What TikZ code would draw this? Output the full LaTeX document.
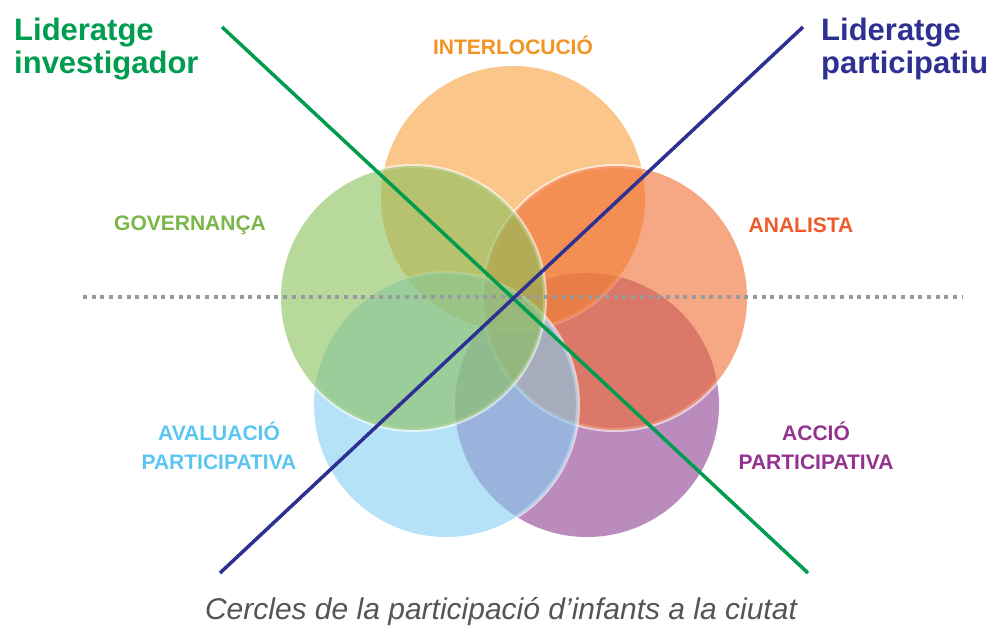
\documentclass[tikz,border=0pt]{standalone}
\usepackage{fontspec}
\setmainfont{Liberation Sans}
\definecolor{cOrange}{HTML}{F8A03C}
\definecolor{cGreen}{HTML}{89C05A}
\definecolor{cRed}{HTML}{F06C30}
\definecolor{cBlue}{HTML}{84CFF2}
\definecolor{cPurple}{HTML}{8E3E93}
\definecolor{tOrange}{HTML}{F39323}
\definecolor{tGreen}{HTML}{7AB648}
\definecolor{tRed}{HTML}{EF5B2A}
\definecolor{tBlue}{HTML}{5BC5F2}
\definecolor{tPurple}{HTML}{93338F}
\definecolor{lGreen}{HTML}{009C4F}
\definecolor{lBlue}{HTML}{2E3192}
\definecolor{dotGray}{HTML}{999A9E}
\definecolor{capGray}{HTML}{555555}
\begin{document}
\begin{tikzpicture}[x=1pt,y=-1pt,
  ring/.style={draw=white,draw opacity=0.6,line width=4pt},
  disc/.style={fill=#1,fill opacity=0.6},
  label/.style={font=\bfseries\fontsize{21}{29}\selectfont,align=center,inner sep=0pt},
  title/.style={font=\bfseries\fontsize{31}{33}\selectfont,align=left,inner sep=0pt,anchor=base west},
  xline/.style={line width=3.5pt}]
\useasboundingbox (0,0) rectangle (1000,627);
% circle centres
\coordinate (cI) at (513,198);
\coordinate (cG) at (413,298);
\coordinate (cA) at (615,298);
\coordinate (cV) at (446,405);
\coordinate (cP) at (587,405);
% circles (ring first, then translucent fill)
\foreach \c/\col in {cP/cPurple,cI/cOrange,cA/cRed,cV/cBlue,cG/cGreen}{
  \draw[ring] (\c) circle[radius=132pt];
  \fill[disc=\col] (\c) circle[radius=132pt];
}
% dotted horizontal line
\coordinate (d1) at (83,297);
\coordinate (d2) at (963,297);
\draw[dotGray,line width=4pt,dash pattern=on 4pt off 4.7pt] (d1) -- (d2);
% diagonal lines
\coordinate (g1) at (222,27);
\coordinate (g2) at (808,573);
\coordinate (b1) at (803,27);
\coordinate (b2) at (220,573);
\draw[xline,lGreen] (g1) -- (g2);
\draw[xline,lBlue] (b1) -- (b2);
% labels
\node[label,text=tOrange] (lI) at (513,45) {INTERLOCUCIÓ};
\node[label,text=tGreen] (lG) at (190,225) {GOVERNANÇA};
\node[label,text=tRed] (lA) at (801,225) {ANALISTA};
\node[label,text=tBlue] (lV) at (219,446) {AVALUACIÓ\\PARTICIPATIVA};
\node[label,text=tPurple] (lP) at (816,446) {ACCIÓ\\PARTICIPATIVA};
% titles
\node[title,text=lGreen] (tL) at (14,73) {Lideratge\\investigador};
\node[title,text=lBlue] (tR) at (821,73) {Lideratge\\participatiu};
% caption
\node[font=\itshape\fontsize{30}{32}\selectfont,text=capGray,inner sep=0pt,anchor=base] (cap) at (501,619) {Cercles de la participació d’infants a la ciutat};
\end{tikzpicture}
\end{document}
